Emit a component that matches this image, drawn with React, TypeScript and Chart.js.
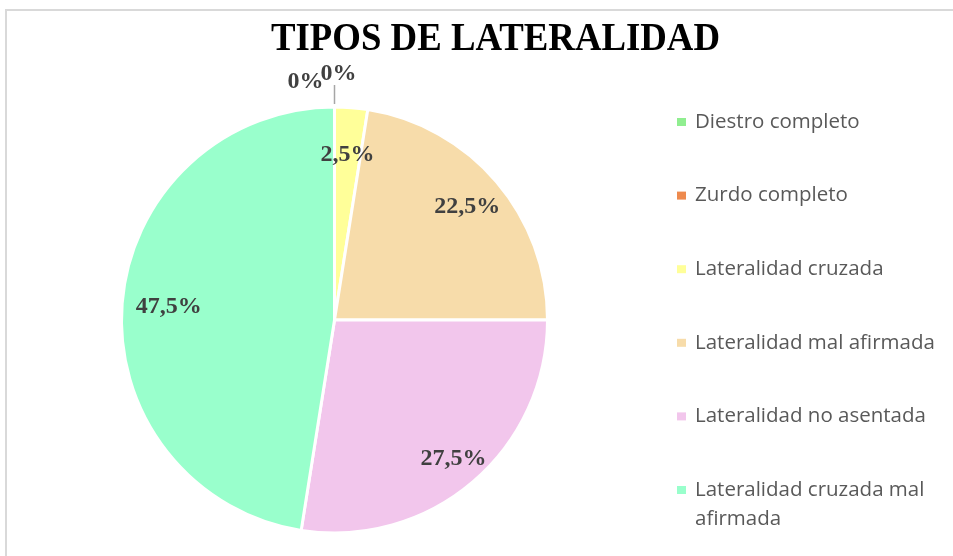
import React, { useEffect, useRef } from "react";
import { Chart, registerables } from "chart.js";

Chart.register(...registerables);

const TITLE = "TIPOS DE LATERALIDAD";
const categories = [
  "Diestro completo",
  "Zurdo completo",
  "Lateralidad cruzada",
  "Lateralidad mal afirmada",
  "Lateralidad no asentada",
  "Lateralidad cruzada mal afirmada",
];
const values = [0, 0, 2.5, 22.5, 27.5, 47.5];
const valueLabels = ["0%", "0%", "2,5%", "22,5%", "27,5%", "47,5%"];
const colors = ["#90EE90", "#EE8A4E", "#FFFF99", "#F7DCAA", "#F2C6EC", "#99FFCC"];
const legendLines = [
  ["Diestro completo"],
  ["Zurdo completo"],
  ["Lateralidad cruzada"],
  ["Lateralidad mal afirmada"],
  ["Lateralidad no asentada"],
  ["Lateralidad cruzada mal", "afirmada"],
];

const labelRadial = [0, 0, 0.78, 0.82, 0.86, 0.78];

const customPlugin = {
  id: "custom",
  beforeDraw(chart: any) {
    const ctx = chart.ctx;
    ctx.save();
    ctx.fillStyle = "#ffffff";
    ctx.fillRect(0, 0, chart.width, chart.height);
    ctx.fillStyle = "#d9d9d9";
    ctx.fillRect(5, 9, chart.width - 5, 2);
    ctx.fillRect(5, 9, 2, chart.height - 9);
    ctx.restore();
  },
  afterDraw(chart: any) {
    const ctx = chart.ctx;
    const meta = chart.getDatasetMeta(0);
    ctx.save();
    // title
    ctx.font = "bold 40px 'Liberation Serif', 'Times New Roman', serif";
    ctx.fillStyle = "#000000";
    ctx.textBaseline = "alphabetic";
    ctx.textAlign = "left";
    const tw = ctx.measureText(TITLE).width;
    const targetW = 449;
    const sx = targetW / tw;
    ctx.save();
    ctx.translate(271, 50);
    ctx.scale(sx, 1);
    ctx.fillText(TITLE, 0, 0);
    ctx.restore();

    // data labels
    ctx.font = "bold 24px 'Liberation Serif', 'Times New Roman', serif";
    ctx.fillStyle = "#404040";
    ctx.textAlign = "center";
    ctx.textBaseline = "middle";
    let zeroCount = 0;
    meta.data.forEach((arc: any, i: number) => {
      const p = arc.getProps(["x", "y", "startAngle", "endAngle", "outerRadius"], true);
      if (values[i] === 0) {
        const topY = p.y - p.outerRadius;
        if (zeroCount === 0) {
          ctx.fillText(valueLabels[i], p.x - 29, topY - 25);
          ctx.save();
          ctx.strokeStyle = "#a6a6a6";
          ctx.lineWidth = 1.5;
          ctx.beginPath();
          ctx.moveTo(p.x, topY - 22);
          ctx.lineTo(p.x, topY - 3);
          ctx.stroke();
          ctx.restore();
        } else {
          ctx.fillText(valueLabels[i], p.x + 4, topY - 33);
        }
        zeroCount++;
        return;
      }
      const mid = (p.startAngle + p.endAngle) / 2;
      const r = p.outerRadius * labelRadial[i];
      ctx.fillText(valueLabels[i], p.x + Math.cos(mid) * r, p.y + Math.sin(mid) * r);
    });

    // legend
    ctx.font = "20.5px 'Open Sans', sans-serif";
    ctx.textAlign = "left";
    ctx.textBaseline = "middle";
    const bg = chart.data.datasets[0].backgroundColor;
    legendLines.forEach((lines, i) => {
      const cy = 122 + i * 73.6;
      ctx.fillStyle = bg[i];
      ctx.fillRect(677, cy - 4, 9, 8);
      ctx.fillStyle = "#595959";
      lines.forEach((ln, j) => {
        ctx.fillText(ln, 695, cy + j * 29);
      });
    });
    ctx.restore();
  },
};

export default function App() {
  const ref = useRef<HTMLCanvasElement>(null);
  useEffect(() => {
    if (!ref.current) return;
    const chart = new Chart(ref.current, {
      type: "pie",
      data: {
        labels: categories,
        datasets: [
          {
            data: values,
            backgroundColor: colors,
            borderColor: "#ffffff",
            borderWidth: 3,
          },
        ],
      },
      options: {
        responsive: false,
        animation: false,
        layout: { padding: { left: 120, right: 404, top: 105, bottom: 21 } },
        plugins: {
          legend: { display: false },
          title: { display: false },
          tooltip: { enabled: false },
        },
      },
      plugins: [customPlugin],
    });
    return () => chart.destroy();
  }, []);
  return (
    <div style={{ position: "fixed", left: 0, top: 0, width: 953, height: 556 }}>
      <canvas ref={ref} width={953} height={556} style={{ display: "block" }} />
    </div>
  );
}
